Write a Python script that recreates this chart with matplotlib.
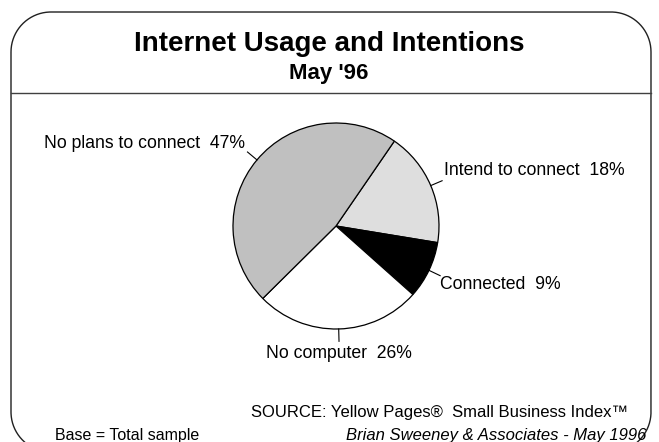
import numpy as np
import matplotlib
matplotlib.use("Agg")
import matplotlib.pyplot as plt

# ---- data ----
categories = ["Intend to connect", "Connected", "No computer", "No plans to connect"]
shares = [18, 9, 26, 47]
colors = ["#dedede", "#000000", "#ffffff", "#c0c0c0"]
title = "Internet Usage and Intentions"
subtitle = "May '96"
source = "SOURCE: Yellow Pages®  Small Business Index™"
base_note = "Base = Total sample"
credit = "Brian Sweeney & Associates - May 1996"

plt.rcParams['font.family'] = ['Liberation Sans', 'DejaVu Sans']

W, H = 659, 442
fig = plt.figure(figsize=(W / 100, H / 100), dpi=100)
fig.patch.set_facecolor("white")

# overlay axes in pixel units
ov = fig.add_axes([0, 0, 1, 1])
ov.set_xlim(0, W)
ov.set_ylim(H, 0)
ov.axis("off")

# rounded frame (y grows downward on this overlay)
L, R, T, B, rad = 11, 651, 12, 452, 40
def arc(cx, cy, a0, a1, n=40):
    t = np.deg2rad(np.linspace(a0, a1, n))
    return cx + rad * np.cos(t), cy + rad * np.sin(t)
xs, ys = [], []
for (cx, cy, a0, a1) in [(L + rad, B - rad, 180, 90)[:0] or (L + rad, T + rad, 180, 270),
                         (R - rad, T + rad, 270, 360),
                         (R - rad, B - rad, 0, 90), (L + rad, B - rad, 90, 180)]:
    ax_, ay_ = arc(cx, cy, a0, a1)
    xs.extend(ax_); ys.extend(ay_)
xs.append(xs[0]); ys.append(ys[0])
ov.plot(xs, ys, color="#202020", linewidth=1.0, solid_joinstyle="round",
        solid_capstyle="butt")
ov.plot([L, R], [93, 93], color="#404040", linewidth=1.0)

ov.text(329, 51, title, ha="center", va="baseline", fontsize=20, fontweight="bold")
ov.text(329, 79, subtitle, ha="center", va="baseline", fontsize=16, fontweight="bold")
ov.text(628, 417, source, ha="right", va="baseline", fontsize=12)
ov.text(55, 440, base_note, ha="left", va="baseline", fontsize=11.5)
ov.text(646, 440, credit, ha="right", va="baseline", fontsize=12, style="italic")

# pie axes: center (336,226) px, radius 103 px
cx, cy, r = 336, 226, 103
pax = fig.add_axes([(cx - r) / W, (H - cy - r) / H, 2 * r / W, 2 * r / H])
wedges, _ = pax.pie(shares, colors=colors, startangle=55.5, counterclock=False,
                    wedgeprops=dict(edgecolor="black", linewidth=0.9))
pax.set_xlim(-1, 1)
pax.set_ylim(-1, 1)
pax.set_aspect("equal")
pax.axis("off")

# label offsets (in radius units) relative to leader end
label_cfg = {
    "Intend to connect": dict(ha="left", va="center", dx=0.02, dy=0.10),
    "Connected": dict(ha="left", va="center", dx=0.0, dy=-0.09),
    "No computer": dict(ha="center", va="center", dx=0.0, dy=-0.12),
    "No plans to connect": dict(ha="right", va="center", dx=-0.02, dy=0.08),
}
for w, cat, val in zip(wedges, categories, shares):
    mid = np.deg2rad((w.theta1 + w.theta2) / 2)
    x0, y0 = np.cos(mid), np.sin(mid)
    x1, y1 = 1.12 * x0, 1.12 * y0
    pax.plot([x0, x1], [y0, y1], color="black", linewidth=0.8, clip_on=False)
    c = label_cfg[cat]
    pax.text(x1 + c["dx"], y1 + c["dy"], f"{cat}  {val}%", ha=c["ha"], va=c["va"],
             fontsize=12.7, clip_on=False)

fig.savefig("out.png", dpi=100)
